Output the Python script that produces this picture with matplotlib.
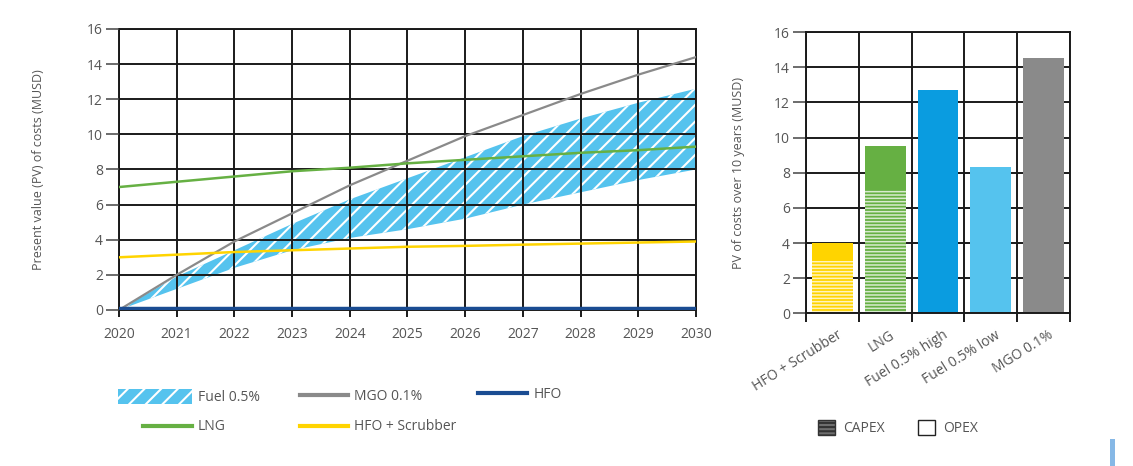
import matplotlib
matplotlib.use('Agg')
import matplotlib.pyplot as plt
import matplotlib.transforms as mtransforms
from matplotlib.patches import Patch, Rectangle
from matplotlib.lines import Line2D

plt.rcParams['font.family'] = ['Open Sans', 'DejaVu Sans']
plt.rcParams['hatch.linewidth'] = 1.5

# present value of costs over time (MUSD)
years = [2020, 2021, 2022, 2023, 2024, 2025, 2026, 2027, 2028, 2029, 2030]
fuel_low = [0.0, 1.2, 2.4, 3.4, 4.1, 4.6, 5.2, 6.0, 6.7, 7.4, 8.0]
fuel_high = [0.0, 1.9, 3.4, 4.9, 6.3, 7.5, 8.7, 9.9, 10.9, 11.8, 12.6]
mgo = [0.0, 2.0, 3.9, 5.5, 7.1, 8.5, 9.9, 11.1, 12.3, 13.4, 14.4]
lng = [7.0, 7.3, 7.6, 7.9, 8.1, 8.35, 8.55, 8.75, 8.95, 9.1, 9.3]
scrubber = [3.0, 3.15, 3.3, 3.4, 3.5, 3.6, 3.65, 3.72, 3.78, 3.84, 3.9]
hfo = [0.05] * 11

# 10-year totals split into CAPEX / OPEX
bar_labels = ['HFO + Scrubber', 'LNG', 'Fuel 0.5% high', 'Fuel 0.5% low', 'MGO 0.1%']
capex = [3.0, 7.0, 0.0, 0.0, 0.0]
opex = [1.0, 2.5, 12.7, 8.3, 14.5]

c_fuel = '#55C3EE'
c_fuel_high = '#0A9CE0'
c_mgo = '#8A8A8A'
c_lng = '#66B043'
c_scrub = '#FFD400'
c_hfo = '#1A4C92'
c_grid = '#1A1A1A'
c_text = '#555555'
FS = 10

W, H = 1133, 466
fig = plt.figure(figsize=(W / 100, H / 100), dpi=100)
fs_px = FS * 100 / 72


def key(handle, label, x0, x1, y, gap=8, hh=0.7):
    # one legend entry, handle spanning x0..x1 pixels, centred on row y
    fig.legend([handle], [label], loc='center left',
               bbox_to_anchor=(x0 / W, 1 - y / H), frameon=False,
               borderpad=0, borderaxespad=0, fontsize=FS, labelcolor=c_text,
               handlelength=(x1 - x0) / fs_px, handleheight=hh,
               handletextpad=gap / fs_px)


# ---- left: cost development ----
ax = fig.add_axes([0.105, 0.3348, 0.5093, 0.6030])
ax.fill_between(years, fuel_low, fuel_high, facecolor=c_fuel, edgecolor='white',
                hatch='//', linewidth=0, zorder=1)
ax.plot(years, mgo, color=c_mgo, lw=1.6, zorder=3)
ax.plot(years, lng, color=c_lng, lw=1.8, zorder=3)
ax.plot(years, scrubber, color=c_scrub, lw=1.8, zorder=3)
ax.plot(years, hfo, color=c_hfo, lw=3.2, zorder=4, solid_capstyle='butt')

ax.set_xlim(2020, 2030)
ax.set_ylim(0, 16)
ax.set_xticks(years)
ax.set_yticks(range(0, 17, 2))
ax.grid(True, color=c_grid, lw=1.4, zorder=2)
ax.set_axisbelow(False)
for s in ax.spines.values():
    s.set_color(c_grid)
    s.set_linewidth(1.4)
ax.tick_params(axis='y', direction='out', length=9.5, width=1.1, color='#444444',
               pad=2, labelsize=FS, labelcolor=c_text)
ax.tick_params(axis='x', direction='out', length=5, width=1.4, color=c_grid,
               pad=7, labelsize=FS, labelcolor=c_text)
ax.set_ylabel('Present value (PV) of costs (MUSD)', fontsize=9, color=c_text)
ax.yaxis.set_label_coords(-0.128, 0.5)

key(Patch(facecolor=c_fuel, edgecolor='white', hatch='//', linewidth=0),
    'Fuel 0.5%', 118, 192, 397, gap=6, hh=1.3)
key(Line2D([], [], color=c_lng, lw=3), 'LNG', 143, 192, 427, gap=6)
key(Line2D([], [], color=c_mgo, lw=3), 'MGO 0.1%', 300, 348, 396, gap=6)
key(Line2D([], [], color=c_scrub, lw=3), 'HFO + Scrubber', 300, 348, 427, gap=6)
key(Line2D([], [], color=c_hfo, lw=3), 'HFO', 478, 527, 394, gap=7)

# ---- right: 10-year totals ----
bx = fig.add_axes([0.7114, 0.3273, 0.2330, 0.6040])
pos = range(len(bar_labels))
colors = [c_scrub, c_lng, c_fuel_high, c_fuel, c_mgo]
capex_bars = bx.bar(pos, capex, width=0.77, color=colors, edgecolor=(1, 1, 1, 0.75),
                    hatch='-----', linewidth=0, zorder=2)
for b in capex_bars:
    if hasattr(b, 'set_hatch_linewidth'):
        b.set_hatch_linewidth(1.1)
bx.bar(pos, opex, width=0.77, bottom=capex, color=colors, linewidth=0, zorder=2)

bx.set_xlim(-0.5, 4.5)
bx.set_ylim(0, 16)
bx.set_yticks(range(0, 17, 2))
bx.set_xticks(pos)
bx.set_xticklabels(bar_labels, rotation=32, ha='right', va='center',
                   rotation_mode='anchor')
bx.set_xticks([p + 0.5 for p in range(-1, 5)], minor=True)
bx.grid(True, axis='y', color=c_grid, lw=1.4, zorder=0)
bx.grid(True, axis='x', which='minor', color=c_grid, lw=1.4, zorder=0)
bx.set_axisbelow(True)
for s in bx.spines.values():
    s.set_color(c_grid)
    s.set_linewidth(1.4)
bx.tick_params(axis='y', direction='out', length=9.5, width=1.1, color='#444444',
               pad=2, labelsize=FS, labelcolor=c_text)
bx.tick_params(axis='x', which='major', length=0, pad=15, labelsize=FS,
               labelcolor=c_text)
bx.tick_params(axis='x', which='minor', direction='out', length=6.5, width=1.4,
               color=c_grid)
shift = mtransforms.ScaledTranslation(6 / 72, 0, fig.dpi_scale_trans)
for lab in bx.get_xticklabels():
    lab.set_transform(lab.get_transform() + shift)
bx.set_ylabel('PV of costs over 10 years (MUSD)', fontsize=9, color=c_text)
bx.yaxis.set_label_coords(-0.231, 0.5)

key(Patch(facecolor='#6E6E6E', edgecolor='#333333', hatch='----', linewidth=1.0),
    'CAPEX', 818, 835, 428, gap=8, hh=1.3)
key(Patch(facecolor='white', edgecolor='#222222', linewidth=1.0),
    'OPEX', 918, 935, 428, gap=8, hh=1.3)

fig.add_artist(Rectangle((0.9795, 0.0), 0.005, 0.058, transform=fig.transFigure,
                         facecolor='#86B8E6', edgecolor='none'))

fig.savefig('out.png', dpi=100)
